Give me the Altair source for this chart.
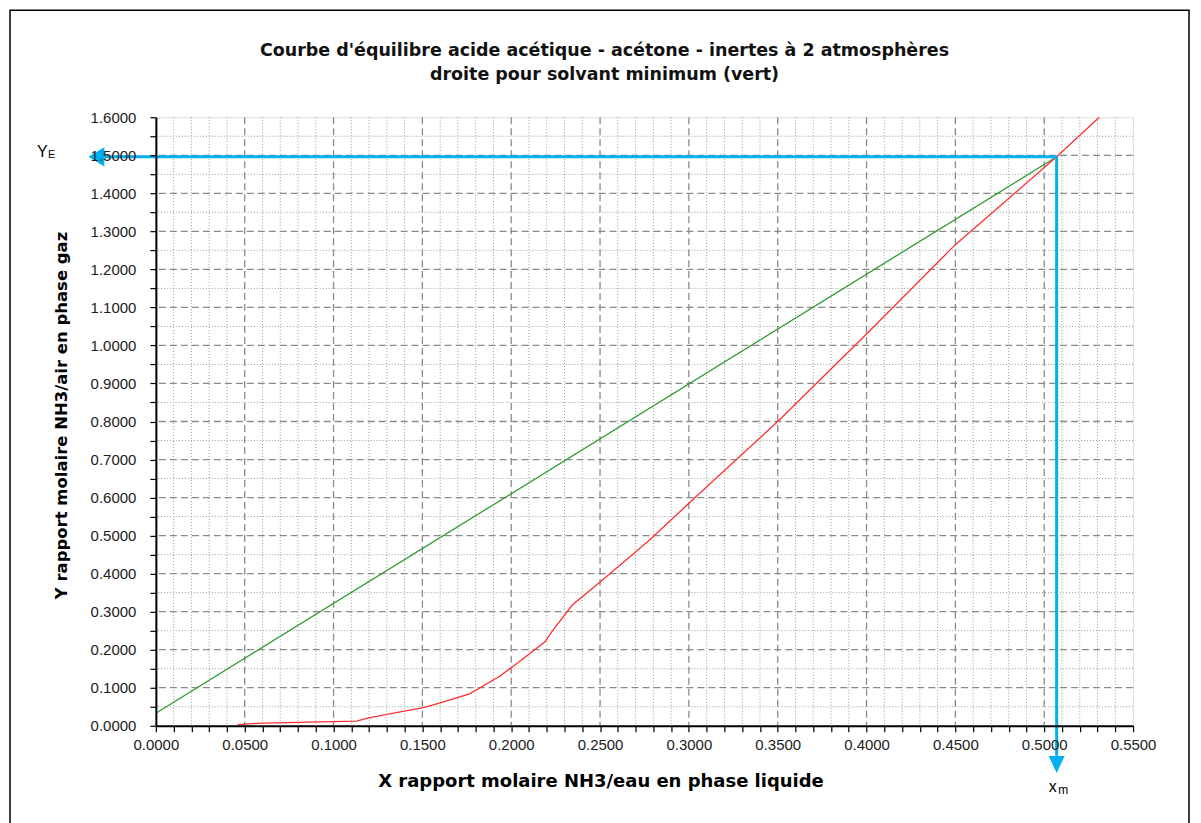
import altair as alt
import pandas as pd

# ---------------- data ----------------
# equilibrium curve (red)
red_x = [0.046, 0.060, 0.113, 0.119, 0.139, 0.150, 0.160, 0.1766, 0.1935, 0.201, 0.219,
         0.223, 0.2345, 0.248, 0.268, 0.278, 0.300, 0.350, 0.400, 0.450, 0.507, 0.531]
red_y = [0.003, 0.007, 0.012, 0.020, 0.038, 0.047, 0.060, 0.084, 0.130, 0.156, 0.221,
         0.248, 0.318, 0.370, 0.449, 0.489, 0.585, 0.800, 1.030, 1.265, 1.496, 1.600]

# minimum solvent operating line (green)
green_x = [0.0, 0.507]
green_y = [0.033, 1.496]

# pinch point annotation
x_m = 0.507
y_e = 1.496
arrow_left_base = -0.029     # end of horizontal blue line (data units)
arrow_left_tip = -0.038
arrow_down_base = -0.079     # end of vertical blue line (data units)
arrow_down_tip = -0.124

# axis ticks / grid
x_ticks = [round(i * 0.01, 2) for i in range(0, 56)]
y_ticks = [round(i * 0.05, 2) for i in range(0, 33)]
x_major_grid = [round(i * 0.05, 2) for i in range(1, 11)]
x_minor_grid = [round(i * 0.01, 2) for i in range(1, 55) if i % 5]
y_major_grid = [round(i * 0.1, 1) for i in range(1, 16)]
y_minor_grid = [round(i * 0.1 + 0.05, 2) for i in range(0, 16)]

title_lines = ["Courbe d'équilibre acide acétique - acétone - inertes à 2 atmosphères",
               "droite pour solvant minimum (vert)"]
x_title = "X rapport molaire NH3/eau en phase liquide"
y_title = "Y rapport molaire NH3/air en phase gaz"

FONT = "Liberation Sans"
BFONT = "DejaVu Sans"
W, H = 978, 609

xs = alt.Scale(domain=[0, 0.55], nice=False, zero=False)
ys = alt.Scale(domain=[0, 1.6], nice=False, zero=False)

red_df = pd.DataFrame({"x": red_x, "y": red_y})
green_df = pd.DataFrame({"x": green_x, "y": green_y})

# grid
gx_minor = alt.Chart(pd.DataFrame({"x": x_minor_grid})).mark_rule(
    color="#9a9a9a", strokeWidth=1, strokeDash=[1, 2]).encode(
    x=alt.X("x:Q", scale=xs, axis=None))
gy_minor = alt.Chart(pd.DataFrame({"y": y_minor_grid})).mark_rule(
    color="#9a9a9a", strokeWidth=1, strokeDash=[1, 2]).encode(
    y=alt.Y("y:Q", scale=ys, axis=None))
gx_major = alt.Chart(pd.DataFrame({"x": x_major_grid})).mark_rule(
    color="#8a8a8a", strokeWidth=1.3, strokeDash=[7, 4]).encode(
    x=alt.X("x:Q", scale=xs, axis=None))
gy_major = alt.Chart(pd.DataFrame({"y": y_major_grid})).mark_rule(
    color="#8a8a8a", strokeWidth=1.3, strokeDash=[7, 4]).encode(
    y=alt.Y("y:Q", scale=ys, axis=None))

# curves
green = alt.Chart(green_df).mark_line(color="#2e9a2e", strokeWidth=1.3).encode(
    x=alt.X("x:Q", scale=xs, axis=None),
    y=alt.Y("y:Q", scale=ys, axis=None))

red = alt.Chart(red_df).mark_line(color="#ff3030", strokeWidth=1.3, clip=True).encode(
    x=alt.X("x:Q", scale=xs, title=x_title,
            axis=alt.Axis(values=x_ticks,
                          labelExpr="(round(datum.value*1000) % 50 == 0) ? format(datum.value, '.4f') : ''",
                          labelOverlap=False, labelFlush=False, labelBound=False,
                          labelFont=FONT, labelFontSize=15, labelColor="#222",
                          labelPadding=6, tickSize=6, tickColor="black", tickWidth=1.2,
                          domainColor="black", domainWidth=2, grid=False, zindex=2,
                          titleFont=BFONT, titleFontSize=18, titleFontWeight="bold", titleColor="black",
                          titleX=445, titleY=56, titleAlign="center", titleBaseline="middle")),
    y=alt.Y("y:Q", scale=ys, title=y_title,
            axis=alt.Axis(values=y_ticks,
                          labelExpr="(round(datum.value*1000) % 100 == 0) ? format(datum.value, '.4f') : ''",
                          labelOverlap=False, labelFlush=False, labelBound=False,
                          labelFont=FONT, labelFontSize=15, labelColor="#222",
                          labelPadding=14, tickSize=6, tickColor="black", tickWidth=1.2,
                          domainColor="black", domainWidth=2, grid=False, zindex=2,
                          titleFont=BFONT, titleFontSize=16.5, titleFontWeight="bold", titleColor="black",
                          titleX=-94, titleY=298, titleAlign="center", titleBaseline="middle")))

# blue arrows
hline = alt.Chart(pd.DataFrame({"x": [x_m], "x2": [arrow_left_base], "y": [y_e]})).mark_rule(
    color="#00b0f0", strokeWidth=3).encode(
    x=alt.X("x:Q", scale=xs, axis=None), x2="x2:Q", y=alt.Y("y:Q", scale=ys, axis=None))
vline = alt.Chart(pd.DataFrame({"x": [x_m], "y": [y_e], "y2": [arrow_down_base]})).mark_rule(
    color="#00b0f0", strokeWidth=3).encode(
    x=alt.X("x:Q", scale=xs, axis=None), y=alt.Y("y:Q", scale=ys, axis=None), y2="y2:Q")
head_left = alt.Chart(pd.DataFrame({"x": [arrow_left_tip], "y": [y_e]})).mark_point(
    shape="M0,0 L2,-1.2 L2,1.2 Z", size=256, filled=True, color="#00b0f0", opacity=1).encode(
    x=alt.X("x:Q", scale=xs, axis=None), y=alt.Y("y:Q", scale=ys, axis=None))
head_down = alt.Chart(pd.DataFrame({"x": [x_m], "y": [arrow_down_tip]})).mark_point(
    shape="M0,0 L-1,-2.1 L1,-2.1 Z", size=256, filled=True, color="#00b0f0", opacity=1).encode(
    x=alt.X("x:Q", scale=xs, axis=None), y=alt.Y("y:Q", scale=ys, axis=None))

# annotation labels
ye_df = pd.DataFrame({"y": [y_e]})
lab_Y = alt.Chart(ye_df).mark_text(text="Y", font=FONT, fontSize=16, align="left",
                                    baseline="alphabetic", dy=0, color="black").encode(
    x=alt.value(-119), y=alt.Y("y:Q", scale=ys, axis=None))
lab_E = alt.Chart(ye_df).mark_text(text="E", font=FONT, fontSize=11, align="left",
                                    baseline="alphabetic", dy=1, color="black").encode(
    x=alt.value(-108), y=alt.Y("y:Q", scale=ys, axis=None))
xm_df = pd.DataFrame({"x": [x_m]})
lab_x = alt.Chart(xm_df).mark_text(text="x", font=FONT, fontSize=16, align="right",
                                    baseline="alphabetic", color="black").encode(
    x=alt.X("x:Q", scale=xs, axis=None), y=alt.value(675))
lab_m = alt.Chart(xm_df).mark_text(text="m", font=FONT, fontSize=12, align="left",
                                    baseline="alphabetic", dx=1.5, color="black").encode(
    x=alt.X("x:Q", scale=xs, axis=None), y=alt.value(677))

# chart title (drawn as text so the outer frame does not push it away)
title_df = pd.DataFrame({"t": title_lines, "row": [0, 1]})
title = alt.Chart(title_df).mark_text(font=BFONT, fontSize=17.5, fontWeight="bold",
                                       color="#111", align="center", baseline="middle").encode(
    text="t:N",
    x=alt.value(449),
    y=alt.Y("row:Q", scale=alt.Scale(domain=[0, 1], range=[-66, -42]), axis=None))

# outer frame (decoration)
frame = alt.Chart(pd.DataFrame({"a": [0]})).mark_rect(
    filled=False, fillOpacity=0, stroke="black", strokeWidth=1.5).encode(
    x=alt.value(-146), x2=alt.value(1034), y=alt.value(-107), y2=alt.value(740))

chart = alt.layer(
    frame, gx_minor, gy_minor, gx_major, gy_major, green, red,
    hline, vline, head_left, head_down, lab_Y, lab_E, lab_x, lab_m, title
).properties(
    width=W, height=H,
    padding={"left": 148, "top": 109, "right": 60, "bottom": 97},
    autosize=alt.AutoSizeParams(type="none"),
).resolve_scale(x="independent", y="independent").configure_view(
    stroke="#a8a8a8", strokeWidth=2).configure(background="white")

chart.save("out.html", embed_options={"renderer": "svg", "actions": False})
